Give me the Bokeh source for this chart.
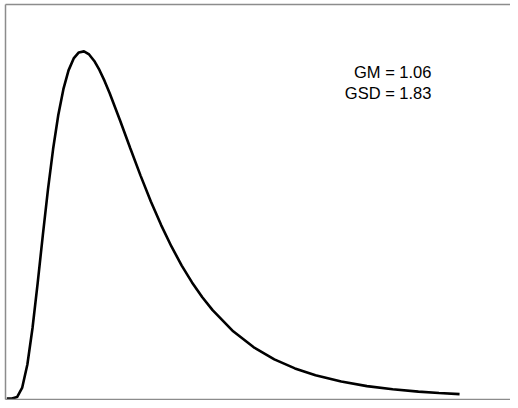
from bokeh.plotting import figure
from bokeh.models import LinearAxis, Range1d, ColumnDataSource, FixedTicker
from bokeh.core.properties import value
from bokeh.embed import file_html
from bokeh.resources import INLINE

# Lognormal density curve (x, density)
curve_x = [0.0, 0.05, 0.1, 0.15, 0.2, 0.25, 0.3, 0.35, 0.4, 0.45, 0.5, 0.55, 0.6,
           0.65, 0.7, 0.75, 0.8, 0.85, 0.9, 0.95, 1.0, 1.1, 1.2, 1.3, 1.4, 1.5,
           1.6, 1.7, 1.8, 1.9, 2.0, 2.2, 2.4, 2.6, 2.8, 3.0, 3.25, 3.5, 3.75,
           4.0, 4.2, 4.4]
curve_y = [0.0, 0.00004, 0.0032, 0.0235, 0.0733, 0.1517, 0.2484, 0.3512, 0.4496,
           0.5369, 0.6095, 0.6658, 0.7062, 0.7320, 0.7449, 0.7471, 0.7405, 0.7265,
           0.7071, 0.6836, 0.6571, 0.5990, 0.5387, 0.4797, 0.4241, 0.3732, 0.3272,
           0.2861, 0.2498, 0.2180, 0.1901, 0.1446, 0.1102, 0.0843, 0.0648, 0.0500,
           0.0364, 0.0267, 0.0198, 0.0148, 0.0117, 0.0094]

stat_labels = ["GM = 1.06", "GSD = 1.83"]
label_x = [4.127, 4.127]
label_y = [0.7025, 0.6573]

p = figure(width=510, height=400, output_backend="svg", toolbar_location=None,
           x_range=Range1d(-0.0126, 4.895), y_range=Range1d(-0.00215, 0.848),
           min_border_left=5, min_border_right=0,
           min_border_top=4, min_border_bottom=1)
p.outline_line_color = None
p.grid.visible = False
p.background_fill_color = "white"
p.border_fill_color = "white"

p.add_layout(LinearAxis(), "above")
for ax in p.axis:
    ax.ticker = FixedTicker(ticks=[])
    ax.major_tick_line_color = None
    ax.minor_tick_line_color = None
    ax.major_tick_out = 0
    ax.major_tick_in = 0
    ax.minor_tick_out = 0
    ax.minor_tick_in = 0
    ax.major_label_standoff = 0
    ax.axis_line_color = "#8c8c8c"
    ax.axis_line_width = 1.5

src = ColumnDataSource(dict(x=curve_x, y=curve_y))
p.line("x", "y", source=src, line_color="black", line_width=2.6)

lsrc = ColumnDataSource(dict(x=label_x, y=label_y, t=stat_labels))
p.text("x", "y", text="t", source=lsrc, text_align="right", text_baseline="alphabetic",
       text_font=value("Liberation Sans"), text_font_size="16.5px", text_color="black")

open("out.html", "w").write(file_html(p, INLINE))
